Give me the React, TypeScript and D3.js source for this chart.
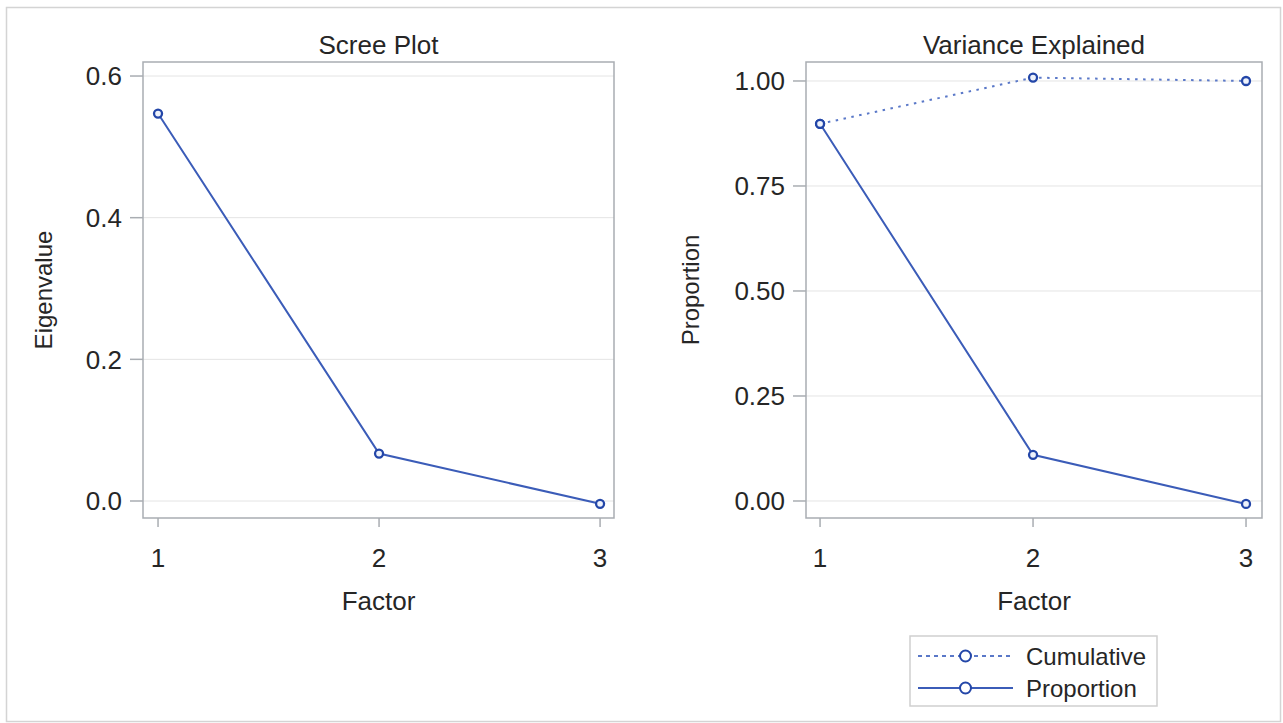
import React from "react";
import * as d3 from "d3";

const factors = [1, 2, 3];
const eigenvalues = [0.547, 0.067, -0.004];
const proportion = [0.898, 0.11, -0.007];
const cumulative = [0.898, 1.008, 1.0];
const screeTicks = [0, 0.2, 0.4, 0.6];
const varTicks = [0, 0.25, 0.5, 0.75, 1.0];
const legendItems = ["Cumulative", "Proportion"];

const FONT = "'Liberation Sans', Arial, sans-serif";
const TEXT = "#262626";
const FRAME = "#a9adb2";
const GRID = "#e4e4e4";
const LINE = "#3b5cb8";
const MARK = "#2346a8";
const DOT = "#5a78c8";

type Series = { values: number[]; dotted: boolean };

function Panel(props: {
  left: number; right: number; top: number; bottom: number;
  xDomain: [number, number]; yDomain: [number, number];
  yTicks: number[]; fmt: (v: number) => string;
  title: string; ylabel: string; ylabelX: number;
  series: Series[];
}) {
  const { left, right, top, bottom } = props;
  const x = d3.scaleLinear().domain(props.xDomain).range([left, right]);
  const y = d3.scaleLinear().domain(props.yDomain).range([bottom, top]);
  const line = d3.line<number>().x((_, i) => x(factors[i])).y((d) => y(d));
  const cx = (left + right) / 2;
  const cy = (top + bottom) / 2;
  return (
    <g>
      {props.yTicks.map((t) => (
        <line key={"g" + t} x1={left} x2={right} y1={y(t)} y2={y(t)} stroke={GRID} strokeWidth={1} />
      ))}
      {props.series.map((s, k) => (
        <path key={"l" + k} d={line(s.values) || ""} fill="none"
          stroke={s.dotted ? DOT : LINE}
          strokeWidth={2}
          strokeDasharray={s.dotted ? "2.5,5.5" : undefined} />
      ))}
      {props.series.map((s, k) =>
        s.values.map((v, i) => (
          <circle key={"c" + k + "-" + i} cx={x(factors[i])} cy={y(v)} r={4}
            fill="#eef2fb" stroke={MARK} strokeWidth={2.3} />
        ))
      )}
      <rect x={left} y={top} width={right - left} height={bottom - top} fill="none" stroke={FRAME} strokeWidth={1.5} />
      {props.yTicks.map((t) => (
        <g key={"t" + t}>
          <line x1={left - 13} x2={left} y1={y(t)} y2={y(t)} stroke={FRAME} strokeWidth={1.5} />
          <text x={left - 21} y={y(t)} dy="0.36em" textAnchor="end" fontSize={26} fill={TEXT} fontFamily={FONT}>
            {props.fmt(t)}
          </text>
        </g>
      ))}
      {factors.map((f) => (
        <g key={"x" + f}>
          <line x1={x(f)} x2={x(f)} y1={bottom} y2={bottom + 9} stroke={FRAME} strokeWidth={1.5} />
          <text x={x(f)} y={bottom + 49} textAnchor="middle" fontSize={26} fill={TEXT} fontFamily={FONT}>{f}</text>
        </g>
      ))}
      <text x={cx} y={54} textAnchor="middle" fontSize={26} fill={TEXT} fontFamily={FONT}>{props.title}</text>
      <text x={cx} y={610} textAnchor="middle" fontSize={26} fill={TEXT} fontFamily={FONT}>Factor</text>
      <text transform={`translate(${props.ylabelX},${cy}) rotate(-90)`} textAnchor="middle" fontSize={24} fill={TEXT} fontFamily={FONT}>
        {props.ylabel}
      </text>
    </g>
  );
}

export default function App() {
  const lx0 = 918, lx1 = 1013;
  const rows = [656, 688];
  return (
    <svg width={1283} height={723} style={{ position: "absolute", left: 0, top: 0, background: "#fff" }}>
      <rect x={6.5} y={7.5} width={1274} height={714} fill="#fff" stroke="#d4d4d4" strokeWidth={1.5} />
      <Panel left={143} right={614} top={62} bottom={518}
        xDomain={[0.932, 3.063]} yDomain={[-0.024, 0.6198]}
        yTicks={screeTicks} fmt={d3.format(".1f")}
        title="Scree Plot" ylabel="Eigenvalue" ylabelX={52}
        series={[{ values: eigenvalues, dotted: false }]} />
      <Panel left={806} right={1262} top={62} bottom={518}
        xDomain={[0.934, 3.075]} yDomain={[-0.0405, 1.0452]}
        yTicks={varTicks} fmt={d3.format(".2f")}
        title="Variance Explained" ylabel="Proportion" ylabelX={699}
        series={[{ values: cumulative, dotted: true }, { values: proportion, dotted: false }]} />
      <rect x={910} y={636} width={247} height={70} fill="#fff" stroke="#cfcfcf" strokeWidth={1.5} />
      {legendItems.map((name, i) => (
        <g key={name}>
          <line x1={lx0} x2={lx1} y1={rows[i]} y2={rows[i]}
            stroke={i === 0 ? DOT : LINE} strokeWidth={2}
            strokeDasharray={i === 0 ? "4,4" : undefined} />
          <circle cx={(lx0 + lx1) / 2} cy={rows[i]} r={5.5} fill="#fff" stroke={MARK} strokeWidth={2} />
          <text x={1026} y={rows[i]} dy="0.36em" fontSize={24} fill={TEXT} fontFamily={FONT}>{name}</text>
        </g>
      ))}
    </svg>
  );
}
